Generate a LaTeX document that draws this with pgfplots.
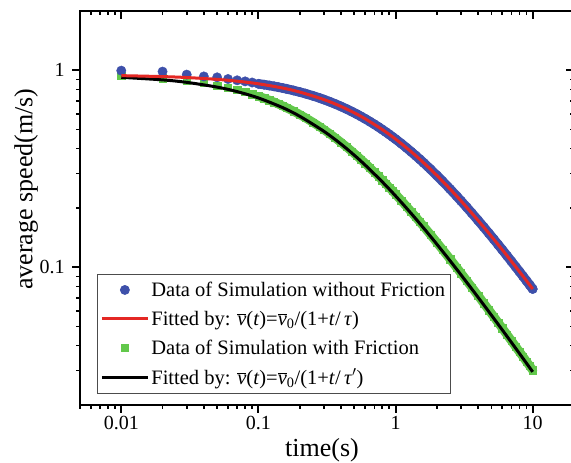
\documentclass[border=0pt]{standalone}
\usepackage{pgfplots}
\pgfplotsset{compat=1.18}
\usepackage{fontspec}
\setmainfont{Liberation Serif}
\definecolor{cblue}{RGB}{62,80,170}
\definecolor{cgreen}{RGB}{98,200,75}
\definecolor{cred}{RGB}{228,40,36}
\pgfplotsset{
  longline/.style={legend image code/.code={\draw[##1] (0pt,0pt) -- (46pt,0pt);}},
  marklegend/.style={legend image code/.code={\draw[mark repeat=2,mark phase=2,##1] plot coordinates {(0pt,0pt) (23pt,0pt) (46pt,0pt)};}},
}
\pgfplotstableread{
t v
0.01 0.93964
0.02 0.912
0.03 0.88594
0.04 0.86133
0.05 0.83805
0.06 0.816
0.07 0.79508
0.08 0.7752
0.09 0.75629
0.1 0.73829
0.11 0.72112
0.12 0.70473
0.13 0.68907
0.14 0.67409
0.15 0.65974
0.16 0.646
0.18 0.62016
0.2 0.59631
0.22 0.57422
0.25 0.544
0.28 0.5168
0.3 0.50013
0.33 0.47705
0.36 0.456
0.4 0.43067
0.44 0.408
0.48 0.3876
0.52 0.36914
0.56 0.35236
0.6 0.33704
0.65 0.31967
0.7 0.304
0.75 0.2898
0.8 0.27686
0.85 0.26503
0.9 0.25416
0.95 0.24416
1.0 0.23491
1.1 0.21837
1.2 0.204
1.3 0.19141
1.4 0.18028
1.5 0.17037
1.6 0.1615
1.8 0.14626
2.0 0.13366
2.2 0.12305
2.5 0.10996
2.8 0.09938
3.0 0.0934
3.3 0.08566
3.6 0.0791
4.0 0.07178
4.4 0.06569
4.8 0.06056
5.2 0.05617
5.6 0.05238
6.0 0.04906
6.5 0.04547
7.0 0.04236
7.5 0.03965
8.0 0.03727
8.5 0.03516
9.0 0.03327
9.5 0.03158
10 0.03005
}\greendata
\pgfplotstableread{
t v
0.01 0.996
0.02 0.985
0.03 0.951
0.04 0.931
0.05 0.921
0.06 0.903
0.07 0.8895
0.08 0.8786
0.09 0.8671
0.1 0.85404
0.11 0.8455
0.12 0.83712
0.13 0.82892
0.14 0.82087
0.15 0.81298
0.16 0.80524
0.18 0.79019
0.2 0.7757
0.22 0.7617
0.25 0.74166
0.28 0.72265
0.3 0.7105
0.33 0.69304
0.36 0.6764
0.4 0.65543
0.44 0.63572
0.48 0.61715
0.52 0.59964
0.56 0.5831
0.6 0.56745
0.65 0.54903
0.7 0.53176
0.75 0.51555
0.8 0.50029
0.85 0.48592
0.9 0.47235
0.95 0.45951
1.0 0.44736
1.1 0.42487
1.2 0.40455
1.3 0.38607
1.4 0.36921
1.5 0.35377
1.6 0.33956
1.8 0.31431
2.0 0.29256
2.2 0.27363
2.5 0.24941
2.8 0.22913
3.0 0.21735
3.3 0.20179
3.6 0.18831
4.0 0.1729
4.4 0.15983
4.8 0.14859
5.2 0.13883
5.6 0.13028
6.0 0.12271
6.5 0.11441
7.0 0.10716
7.5 0.10077
8.0 0.09511
8.5 0.09004
9.0 0.08549
9.5 0.08138
10 0.07764
}\bluedata
\begin{document}
\begin{tikzpicture}
\path[use as bounding box] (-80pt,-58pt) rectangle (491pt,405pt);
\begin{axis}[
  scale only axis, width=494pt, height=394pt,
  xmode=log, ymode=log,
  xmin=0.005, xmax=20, ymin=0.02, ymax=2,
  clip marker paths=true,
  xtick={0.01,0.1,1,10},
  ytick={0.1,1},
  minor xtick={0.005,0.006,0.007,0.008,0.009,0.02,0.03,0.04,0.05,0.06,0.07,0.08,0.09,0.2,0.3,0.4,0.5,0.6,0.7,0.8,0.9,2,3,4,5,6,7,8,9},
  minor ytick={0.03,0.04,0.05,0.06,0.07,0.08,0.09,0.2,0.3,0.4,0.5,0.6,0.7,0.8,0.9},
  major tick length=8pt, minor tick length=4pt,
  axis line style={line width=2.4pt},
  major tick style={line width=2pt, black},
  minor tick style={line width=1.6pt, black},
  tick align=outside, xtick pos=left, ytick pos=left,
  xticklabels={0.01,0.1,1,10},
  yticklabels={0.1,1},
  ticklabel style={font=\fontsize{20}{24}\selectfont},
  yticklabel style={xshift=-4pt},
  xlabel={time(s)}, ylabel={average speed(m/s)},
  label style={font=\fontsize{26}{31}\selectfont},
  xlabel style={at={(axis description cs:0.49,-0.114)}, anchor=center},
  ylabel style={at={(axis description cs:-0.109,0.548)}, anchor=center},
  legend cell align=left,
  legend style={at={(axis description cs:0.0344,0.0279)}, anchor=south west,
    draw=black!70, line width=0.8pt, fill=white,
    font=\fontsize{20.5}{24}\selectfont, inner xsep=3pt, inner ysep=6pt, row sep=9pt},
]
% green data (with friction): dense band + square marks
\addplot[forget plot, cgreen, line width=9pt, line join=round, line cap=round, no marks, restrict x to domain=-2.31:2.31] table[x=t,y=v] {\greendata};
\addplot[forget plot, only marks, mark=square*, mark size=3.6pt, color=cgreen, mark options={draw=cgreen, fill=cgreen}] table[x=t,y=v] {\greendata};
% black fit
\addplot[forget plot, black, line width=3pt, smooth, no marks] coordinates {
(0.01,0.92121)(0.02,0.89412)(0.03,0.86857)(0.05,0.82162)(0.07,0.77949)(0.1,0.72381)(0.15,0.64681)(0.2,0.58462)(0.3,0.49032)(0.4,0.42222)
(0.5,0.37073)(0.6,0.33043)(0.8,0.27143)(1,0.2303)(1.3,0.18765)(1.6,0.15833)(2,0.13103)(2.5,0.1078)(3,0.09157)(4,0.07037)
(5,0.05714)(6,0.0481)(7,0.04153)(8,0.03654)(9,0.03262)(10,0.02946)};
% blue data (without friction): dense band + circle marks
\addplot[forget plot, cblue, line width=9.4pt, line join=round, line cap=round, no marks, restrict x to domain=-2.31:2.31] table[x=t,y=v] {\bluedata};
\addplot[forget plot, only marks, mark=*, mark size=4.7pt, color=cblue, mark options={draw=cblue, fill=cblue}] table[x=t,y=v] {\bluedata};
% red fit
\addplot[forget plot, cred, line width=3pt, smooth, no marks] coordinates {
(0.01,0.93944)(0.02,0.92912)(0.03,0.91904)(0.05,0.89947)(0.07,0.88072)(0.1,0.85404)(0.15,0.81298)(0.2,0.7757)(0.3,0.7105)(0.4,0.65543)
(0.5,0.60827)(0.6,0.56745)(0.8,0.50029)(1,0.44736)(1.3,0.38607)(1.6,0.33956)(2,0.29256)(2.5,0.24941)(3,0.21735)(4,0.1729)
(5,0.14355)(6,0.12271)(7,0.10716)(8,0.09511)(9,0.08549)(10,0.07764)};
\addlegendimage{only marks, mark=*, mark size=4.5pt, color=cblue, mark options={draw=cblue, fill=cblue}, marklegend}
\addlegendentry{Data of Simulation without Friction}
\addlegendimage{cred, line width=3pt, longline}
\addlegendentry{Fitted by: $\overline{\mbox{\textit{v}}}$(\textit{t})=$\overline{\mbox{\textit{v}}}$\textsubscript{0}/(1+\textit{t}/\,\textit{τ})}
\addlegendimage{only marks, mark=square*, mark size=3.5pt, color=cgreen, mark options={draw=cgreen, fill=cgreen}, marklegend}
\addlegendentry{Data of Simulation with Friction}
\addlegendimage{black, line width=3pt, longline}
\addlegendentry{Fitted by: $\overline{\mbox{\textit{v}}}$(\textit{t})=$\overline{\mbox{\textit{v}}}$\textsubscript{0}/(1+\textit{t}/\,\textit{τ}$'$)}
\end{axis}
\begin{axis}[
  scale only axis, width=494pt, height=394pt,
  xmode=log, ymode=log,
  xmin=0.005, xmax=20, ymin=0.02, ymax=2,
  xtick={0.01,0.1,1,10},
  ytick={0.1,1},
  minor xtick={0.005,0.006,0.007,0.008,0.009,0.02,0.03,0.04,0.05,0.06,0.07,0.08,0.09,0.2,0.3,0.4,0.5,0.6,0.7,0.8,0.9,2,3,4,5,6,7,8,9},
  minor ytick={0.03,0.04,0.05,0.06,0.07,0.08,0.09,0.2,0.3,0.4,0.5,0.6,0.7,0.8,0.9},
  major tick length=8pt, minor tick length=4pt,
  axis line style={line width=2.4pt},
  major tick style={line width=2pt, black},
  minor tick style={line width=1.6pt, black},
  tick align=inside, xtick pos=right, ytick pos=right,
  xticklabels={}, yticklabels={},
]
\end{axis}
\end{tikzpicture}
\end{document}
